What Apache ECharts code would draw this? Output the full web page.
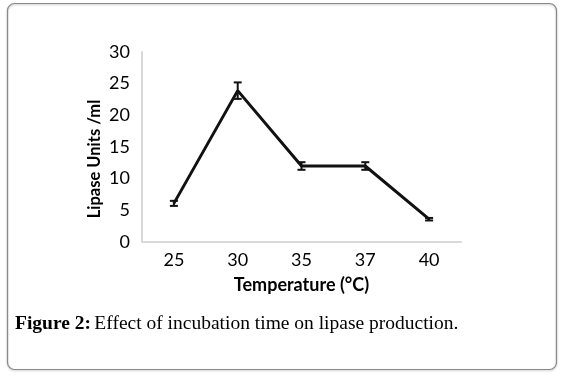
<!DOCTYPE html>
<html>
<head>
<meta charset="utf-8">
<script src="https://cdn.jsdelivr.net/npm/echarts@6/dist/echarts.min.js"></script>
<style>
    html, body { margin: 0; padding: 0; background: #fff; }
    #chart { width: 562px; height: 376px; }
</style>
</head>
<body>
<div id="chart"></div>
<script>
    // data
    var temperatures = ['25', '30', '35', '37', '40'];
    var lipaseUnits = [6.1, 23.9, 12.0, 12.0, 3.6];
    var errors = [0.4, 1.3, 0.6, 0.6, 0.2];

    var errorData = [];
    for (var i = 0; i < temperatures.length; i++) {
        errorData.push([i, lipaseUnits[i] - errors[i], lipaseUnits[i] + errors[i]]);
    }

    var chart = echarts.init(document.getElementById('chart'));

    var option = {
        animation: false,
        textStyle: { fontFamily: 'Lato' },
        grid: {
            left: 142,
            right: 101,
            top: 52,
            bottom: 134
        },
        xAxis: {
            type: 'category',
            data: temperatures,
            boundaryGap: true,
            axisTick: { show: false },
            axisLine: { lineStyle: { color: '#d9d9d9', width: 2 } },
            axisLabel: { color: '#000', fontSize: 18, margin: 9 },
            name: 'Temperature (°C)',
            nameLocation: 'middle',
            nameGap: 34,
            nameTextStyle: { color: '#000', fontSize: 18, fontWeight: 'bold' }
        },
        yAxis: {
            type: 'value',
            min: 0,
            max: 30,
            interval: 5,
            splitLine: { show: false },
            axisTick: { show: false },
            axisLine: { show: true, lineStyle: { color: '#d9d9d9', width: 2 } },
            axisLabel: { color: '#000', fontSize: 18, margin: 12 }
        },
        series: [
            {
                type: 'line',
                data: lipaseUnits,
                symbol: 'none',
                lineStyle: { color: '#111', width: 3 }
            },
            {
                // error bars
                type: 'custom',
                data: errorData,
                renderItem: function (params, api) {
                    var lo = api.coord([api.value(0), api.value(1)]);
                    var hi = api.coord([api.value(0), api.value(2)]);
                    var cap = 4;
                    var style = { stroke: '#111', lineWidth: 2 };
                    return {
                        type: 'group',
                        children: [
                            { type: 'line', shape: { x1: lo[0], y1: lo[1], x2: hi[0], y2: hi[1] }, style: style },
                            { type: 'line', shape: { x1: lo[0] - cap, y1: lo[1], x2: lo[0] + cap, y2: lo[1] }, style: style },
                            { type: 'line', shape: { x1: hi[0] - cap, y1: hi[1], x2: hi[0] + cap, y2: hi[1] }, style: style }
                        ]
                    };
                },
                z: 3
            }
        ],
        graphic: [
            {
                type: 'rect',
                shape: { x: 7.5, y: 3.5, width: 549, height: 366, r: 7 },
                style: { fill: 'none', stroke: '#8a8a8a', lineWidth: 1.2,
                    shadowColor: 'rgba(0,0,0,0.25)', shadowBlur: 2, shadowOffsetY: 1 },
                z: -1
            },
            {
                // y axis title
                type: 'text',
                x: 95,
                y: 159,
                rotation: Math.PI / 2,
                style: {
                    text: 'Lipase Units /ml',
                    fontFamily: 'Lato',
                    fontSize: 16.5,
                    fontWeight: 'bold',
                    fill: '#000',
                    align: 'center',
                    verticalAlign: 'middle'
                }
            },
            {
                type: 'text',
                left: 15,
                top: 314,
                style: {
                    rich: {
                        b: { fontFamily: 'Liberation Serif', fontSize: 19.5, fontWeight: 'bold', fill: '#000' },
                        n: { fontFamily: 'Liberation Serif', fontSize: 19.5, fill: '#000' }
                    },
                    text: '{b|Figure 2:} {n|Effect of incubation time on lipase production.}'
                }
            }
        ]
    };

    chart.setOption(option);
</script>
</body>
</html>
